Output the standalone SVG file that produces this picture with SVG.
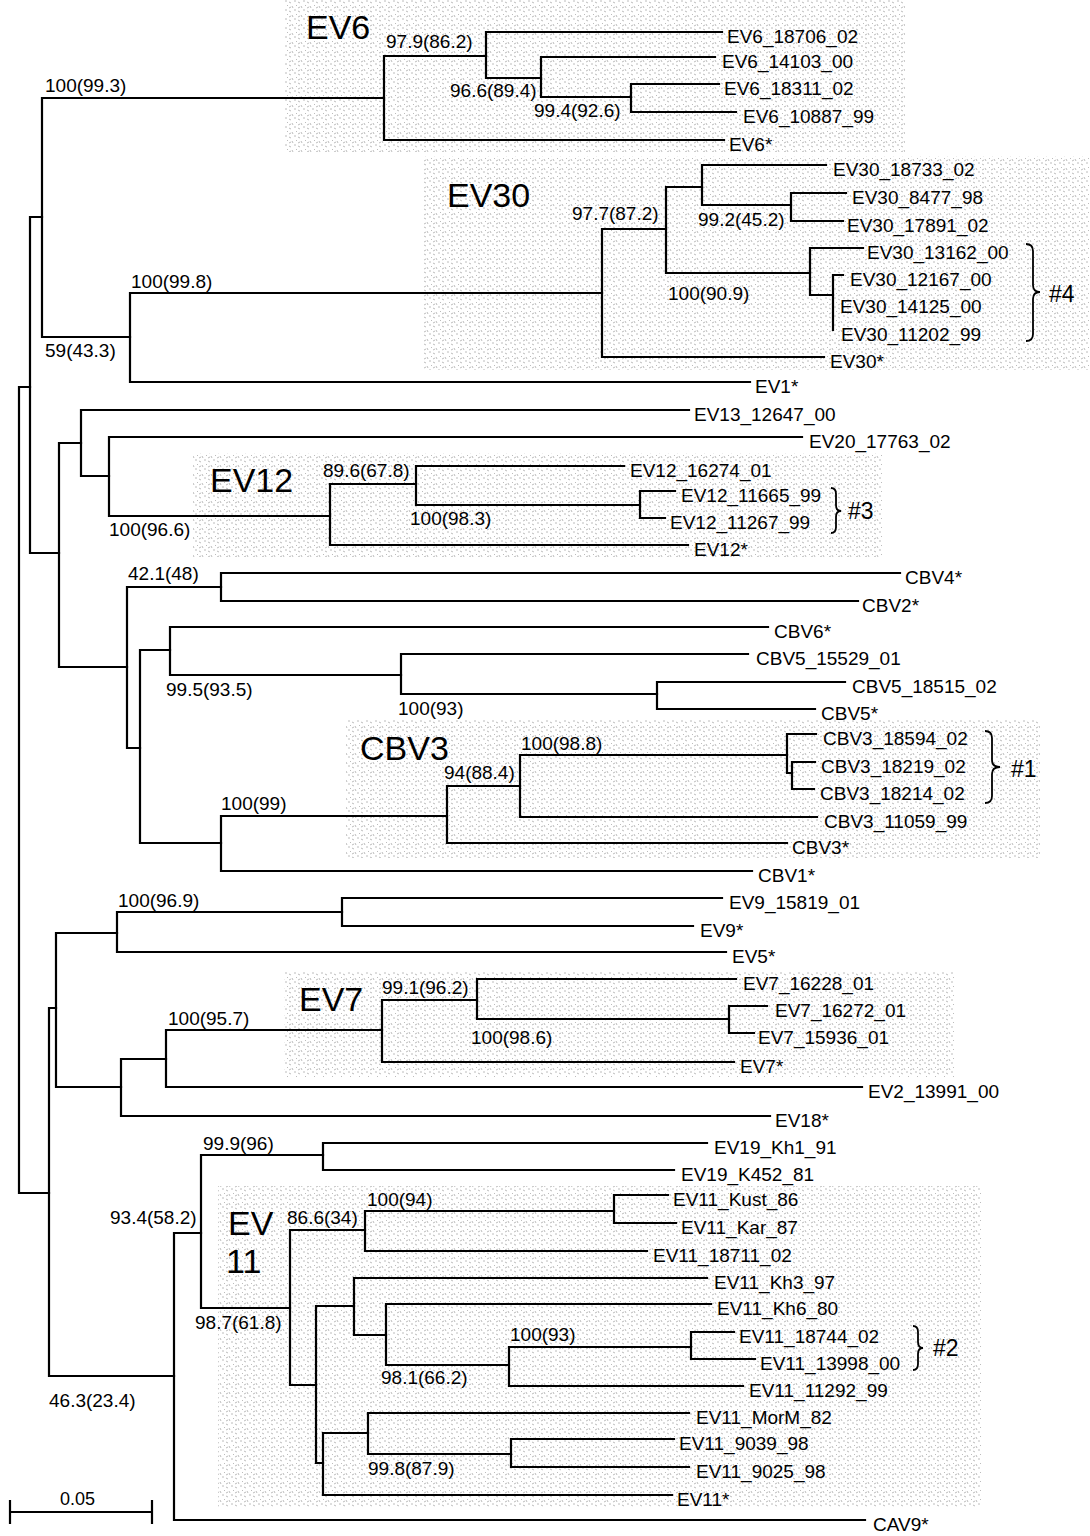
<svg xmlns="http://www.w3.org/2000/svg" width="1090" height="1536" viewBox="0 0 1090 1536">
<style>
text{font-family:"Liberation Sans",Arial,sans-serif;fill:#000}
.leaf{font-size:19px}
.bs{font-size:19px}
.clade{font-size:34px}
.hash{font-size:23px}
.tree{fill:none;stroke:#000;stroke-width:2.2;stroke-linecap:square}
.brace{fill:none;stroke:#000;stroke-width:1.8}
.shade{fill:url(#st)}
</style>
<defs>
<pattern id="st" width="9" height="9" patternUnits="userSpaceOnUse">
<path d="M1 2l2 1M6 1l2 0M4 6l1 2M8 5l1 1M1 8l2-1" stroke="#ababab" stroke-width="0.8" fill="none"/>
</pattern>
</defs>
<rect width="1090" height="1536" fill="#fff"/>
<g id="shading">
<rect class="shade" x="285" y="0" width="620" height="152"/>
<rect class="shade" x="424" y="156" width="666" height="214"/>
<rect class="shade" x="193" y="453" width="689" height="104"/>
<rect class="shade" x="346" y="720" width="694" height="138"/>
<rect class="shade" x="284" y="972" width="671" height="105"/>
<rect class="shade" x="218" y="1186" width="764" height="322"/>
</g>
<g id="connectors" class="tree">
<path d="M19,387V1193M19,387H30M19,1193H49"/>
<path d="M30,217V553M30,217H42M30,553H59"/>
<path d="M42,98V337M42,98H384M42,337H130"/>
<path d="M384,56V140M384,56H486M384,140H724"/>
<path d="M486,32V78M486,32H722M486,78H541"/>
<path d="M541,57V97M541,57H715M541,97H631"/>
<path d="M631,84V112M631,84H719M631,112H736"/>
<path d="M130,293V382M130,293H602M130,382H750"/>
<path d="M602,229V357M602,229H666M602,357H824"/>
<path d="M666,187V273M666,187H702M666,273H810"/>
<path d="M702,165V205M702,165H826M702,205H791"/>
<path d="M791,193V221M791,193H846M791,221H843"/>
<path d="M810,248V295M810,248H863M810,295H833"/>
<path d="M833,275V330M833,275H843"/>
<path d="M59,443V667M59,443H81M59,667H127"/>
<path d="M81,410V476M81,410H689M81,476H109"/>
<path d="M109,437V516M109,437H802M109,516H330"/>
<path d="M330,484V545M330,484H416M330,545H688"/>
<path d="M416,466V505M416,466H624M416,505H640"/>
<path d="M640,491V518M640,491H675M640,518H665"/>
<path d="M127,587V748M127,587H221M127,748H140"/>
<path d="M221,573V601M221,573H900M221,601H858"/>
<path d="M140,650V843M140,650H170M140,843H221"/>
<path d="M170,627V675M170,627H768M170,675H401"/>
<path d="M401,654V694M401,654H748M401,694H657"/>
<path d="M657,682V709M657,682H845M657,709H815"/>
<path d="M221,816V871M221,816H447M221,871H752"/>
<path d="M447,786V843M447,786H520M447,843H787"/>
<path d="M520,755V817M520,755H787M520,817H817"/>
<path d="M787,734V773M787,734H816M787,773H792"/>
<path d="M792,762V789M792,762H815M792,789H814"/>
<path d="M49,1008V1376M49,1008H56M49,1376H174"/>
<path d="M56,933V1087M56,933H117M56,1087H121"/>
<path d="M117,912V952M117,912H342M117,952H726"/>
<path d="M342,898V926M342,898H722M342,926H693"/>
<path d="M121,1059V1116M121,1059H166M121,1116H770"/>
<path d="M166,1030V1087M166,1030H382M166,1087H862"/>
<path d="M382,1000V1062M382,1000H477M382,1062H734"/>
<path d="M477,979V1019M477,979H736M477,1019H729"/>
<path d="M729,1006V1033M729,1006H767M729,1033H754"/>
<path d="M174,1233V1520M174,1233H201M174,1520H865"/>
<path d="M201,1155V1308M201,1155H323M201,1308H290"/>
<path d="M323,1143V1170M323,1143H707M323,1170H674"/>
<path d="M290,1230V1385M290,1230H365M290,1385H316"/>
<path d="M365,1211V1251M365,1211H614M365,1251H647"/>
<path d="M614,1195V1223M614,1195H668M614,1223H676"/>
<path d="M316,1306V1463M316,1306H354M316,1463H323"/>
<path d="M354,1278V1335M354,1278H707M354,1335H386"/>
<path d="M386,1304V1365M386,1304H711M386,1365H509"/>
<path d="M509,1347V1386M509,1347H691M509,1386H743"/>
<path d="M691,1332V1359M691,1332H734M691,1359H755"/>
<path d="M323,1433V1495M323,1433H368M323,1495H672"/>
<path d="M368,1413V1454M368,1413H689M368,1454H511"/>
<path d="M511,1439V1467M511,1439H674M511,1467H689"/>
</g>
<g id="leaves" class="leaf">
<g id="EV6_18706_02"><text x="727" y="43">EV6_18706_02</text></g>
<g id="EV6_14103_00"><text x="722" y="68">EV6_14103_00</text></g>
<g id="EV6_18311_02"><text x="724" y="95">EV6_18311_02</text></g>
<g id="EV6_10887_99"><text x="743" y="123">EV6_10887_99</text></g>
<g id="EV6_ref"><text x="729" y="151">EV6*</text></g>
<g id="EV30_18733_02"><text x="833" y="176">EV30_18733_02</text></g>
<g id="EV30_8477_98"><text x="852" y="204">EV30_8477_98</text></g>
<g id="EV30_17891_02"><text x="847" y="232">EV30_17891_02</text></g>
<g id="EV30_13162_00"><text x="867" y="259">EV30_13162_00</text></g>
<g id="EV30_12167_00"><text x="850" y="286">EV30_12167_00</text></g>
<g id="EV30_14125_00"><text x="840" y="313">EV30_14125_00</text></g>
<g id="EV30_11202_99"><text x="841" y="341">EV30_11202_99</text></g>
<g id="EV30_ref"><text x="830" y="368">EV30*</text></g>
<g id="EV1_ref"><text x="755" y="393">EV1*</text></g>
<g id="EV13_12647_00"><text x="694" y="421">EV13_12647_00</text></g>
<g id="EV20_17763_02"><text x="809" y="448">EV20_17763_02</text></g>
<g id="EV12_16274_01"><text x="630" y="477">EV12_16274_01</text></g>
<g id="EV12_11665_99"><text x="681" y="502">EV12_11665_99</text></g>
<g id="EV12_11267_99"><text x="670" y="529">EV12_11267_99</text></g>
<g id="EV12_ref"><text x="694" y="556">EV12*</text></g>
<g id="CBV4_ref"><text x="905" y="584">CBV4*</text></g>
<g id="CBV2_ref"><text x="862" y="612">CBV2*</text></g>
<g id="CBV6_ref"><text x="774" y="638">CBV6*</text></g>
<g id="CBV5_15529_01"><text x="756" y="665">CBV5_15529_01</text></g>
<g id="CBV5_18515_02"><text x="852" y="693">CBV5_18515_02</text></g>
<g id="CBV5_ref"><text x="821" y="720">CBV5*</text></g>
<g id="CBV3_18594_02"><text x="823" y="745">CBV3_18594_02</text></g>
<g id="CBV3_18219_02"><text x="821" y="773">CBV3_18219_02</text></g>
<g id="CBV3_18214_02"><text x="820" y="800">CBV3_18214_02</text></g>
<g id="CBV3_11059_99"><text x="824" y="828">CBV3_11059_99</text></g>
<g id="CBV3_ref"><text x="792" y="854">CBV3*</text></g>
<g id="CBV1_ref"><text x="758" y="882">CBV1*</text></g>
<g id="EV9_15819_01"><text x="729" y="909">EV9_15819_01</text></g>
<g id="EV9_ref"><text x="700" y="937">EV9*</text></g>
<g id="EV5_ref"><text x="732" y="963">EV5*</text></g>
<g id="EV7_16228_01"><text x="743" y="990">EV7_16228_01</text></g>
<g id="EV7_16272_01"><text x="775" y="1017">EV7_16272_01</text></g>
<g id="EV7_15936_01"><text x="758" y="1044">EV7_15936_01</text></g>
<g id="EV7_ref"><text x="740" y="1073">EV7*</text></g>
<g id="EV2_13991_00"><text x="868" y="1098">EV2_13991_00</text></g>
<g id="EV18_ref"><text x="775" y="1127">EV18*</text></g>
<g id="EV19_Kh1_91"><text x="714" y="1154">EV19_Kh1_91</text></g>
<g id="EV19_K452_81"><text x="681" y="1181">EV19_K452_81</text></g>
<g id="EV11_Kust_86"><text x="673" y="1206">EV11_Kust_86</text></g>
<g id="EV11_Kar_87"><text x="681" y="1234">EV11_Kar_87</text></g>
<g id="EV11_18711_02"><text x="653" y="1262">EV11_18711_02</text></g>
<g id="EV11_Kh3_97"><text x="714" y="1289">EV11_Kh3_97</text></g>
<g id="EV11_Kh6_80"><text x="717" y="1315">EV11_Kh6_80</text></g>
<g id="EV11_18744_02"><text x="739" y="1343">EV11_18744_02</text></g>
<g id="EV11_13998_00"><text x="760" y="1370">EV11_13998_00</text></g>
<g id="EV11_11292_99"><text x="749" y="1397">EV11_11292_99</text></g>
<g id="EV11_MorM_82"><text x="696" y="1424">EV11_MorM_82</text></g>
<g id="EV11_9039_98"><text x="679" y="1450">EV11_9039_98</text></g>
<g id="EV11_9025_98"><text x="696" y="1478">EV11_9025_98</text></g>
<g id="EV11_ref"><text x="677" y="1506">EV11*</text></g>
<g id="CAV9_ref"><text x="873" y="1531">CAV9*</text></g>
</g>
<g id="support" class="bs">
<text x="45" y="92">100(99.3)</text>
<text x="45" y="357">59(43.3)</text>
<text x="131" y="288">100(99.8)</text>
<text x="386" y="48">97.9(86.2)</text>
<text x="450" y="97">96.6(89.4)</text>
<text x="534" y="117">99.4(92.6)</text>
<text x="572" y="220">97.7(87.2)</text>
<text x="698" y="226">99.2(45.2)</text>
<text x="668" y="300">100(90.9)</text>
<text x="109" y="536">100(96.6)</text>
<text x="323" y="477">89.6(67.8)</text>
<text x="410" y="525">100(98.3)</text>
<text x="128" y="580">42.1(48)</text>
<text x="166" y="696">99.5(93.5)</text>
<text x="398" y="715">100(93)</text>
<text x="521" y="750">100(98.8)</text>
<text x="444" y="779">94(88.4)</text>
<text x="221" y="810">100(99)</text>
<text x="118" y="907">100(96.9)</text>
<text x="168" y="1025">100(95.7)</text>
<text x="382" y="994">99.1(96.2)</text>
<text x="471" y="1044">100(98.6)</text>
<text x="203" y="1150">99.9(96)</text>
<text x="110" y="1224">93.4(58.2)</text>
<text x="195" y="1329">98.7(61.8)</text>
<text x="287" y="1224">86.6(34)</text>
<text x="367" y="1206">100(94)</text>
<text x="381" y="1384">98.1(66.2)</text>
<text x="510" y="1341">100(93)</text>
<text x="368" y="1475">99.8(87.9)</text>
<text x="49" y="1407">46.3(23.4)</text>
</g>
<g id="clade-labels" class="clade">
<text x="306" y="39">EV6</text>
<text x="447" y="207">EV30</text>
<text x="210" y="492">EV12</text>
<text x="360" y="760">CBV3</text>
<text x="299" y="1011">EV7</text>
<text x="228" y="1235">EV</text>
<text x="226" y="1273">11</text>
</g>
<g id="braces">
<path class="brace" d="M1026,244Q1033,244 1033,251V285Q1033,292 1040,292Q1033,292 1033,299V334Q1033,341 1026,341"/>
<path class="brace" d="M831,488Q836,488 836,494V505Q836,511 841,511Q836,511 836,517V527Q836,533 831,533"/>
<path class="brace" d="M985,731Q992,731 992,738V760Q992,767 1000,767Q992,767 992,774V796Q992,803 985,803"/>
<path class="brace" d="M913,1326Q918,1326 918,1332V1342Q918,1348 923,1348Q918,1348 918,1354V1364Q918,1370 913,1370"/>
<text class="hash" x="1049" y="302">#4</text>
<text class="hash" x="848" y="519">#3</text>
<text class="hash" x="1011" y="777">#1</text>
<text class="hash" x="933" y="1356">#2</text>
</g>
<g id="scale-bar">
<path class="tree" d="M10,1512H152M10,1501V1523M152,1501V1523"/>
<text x="60" y="1505" style="font-size:18px">0.05</text>
</g>
</svg>
